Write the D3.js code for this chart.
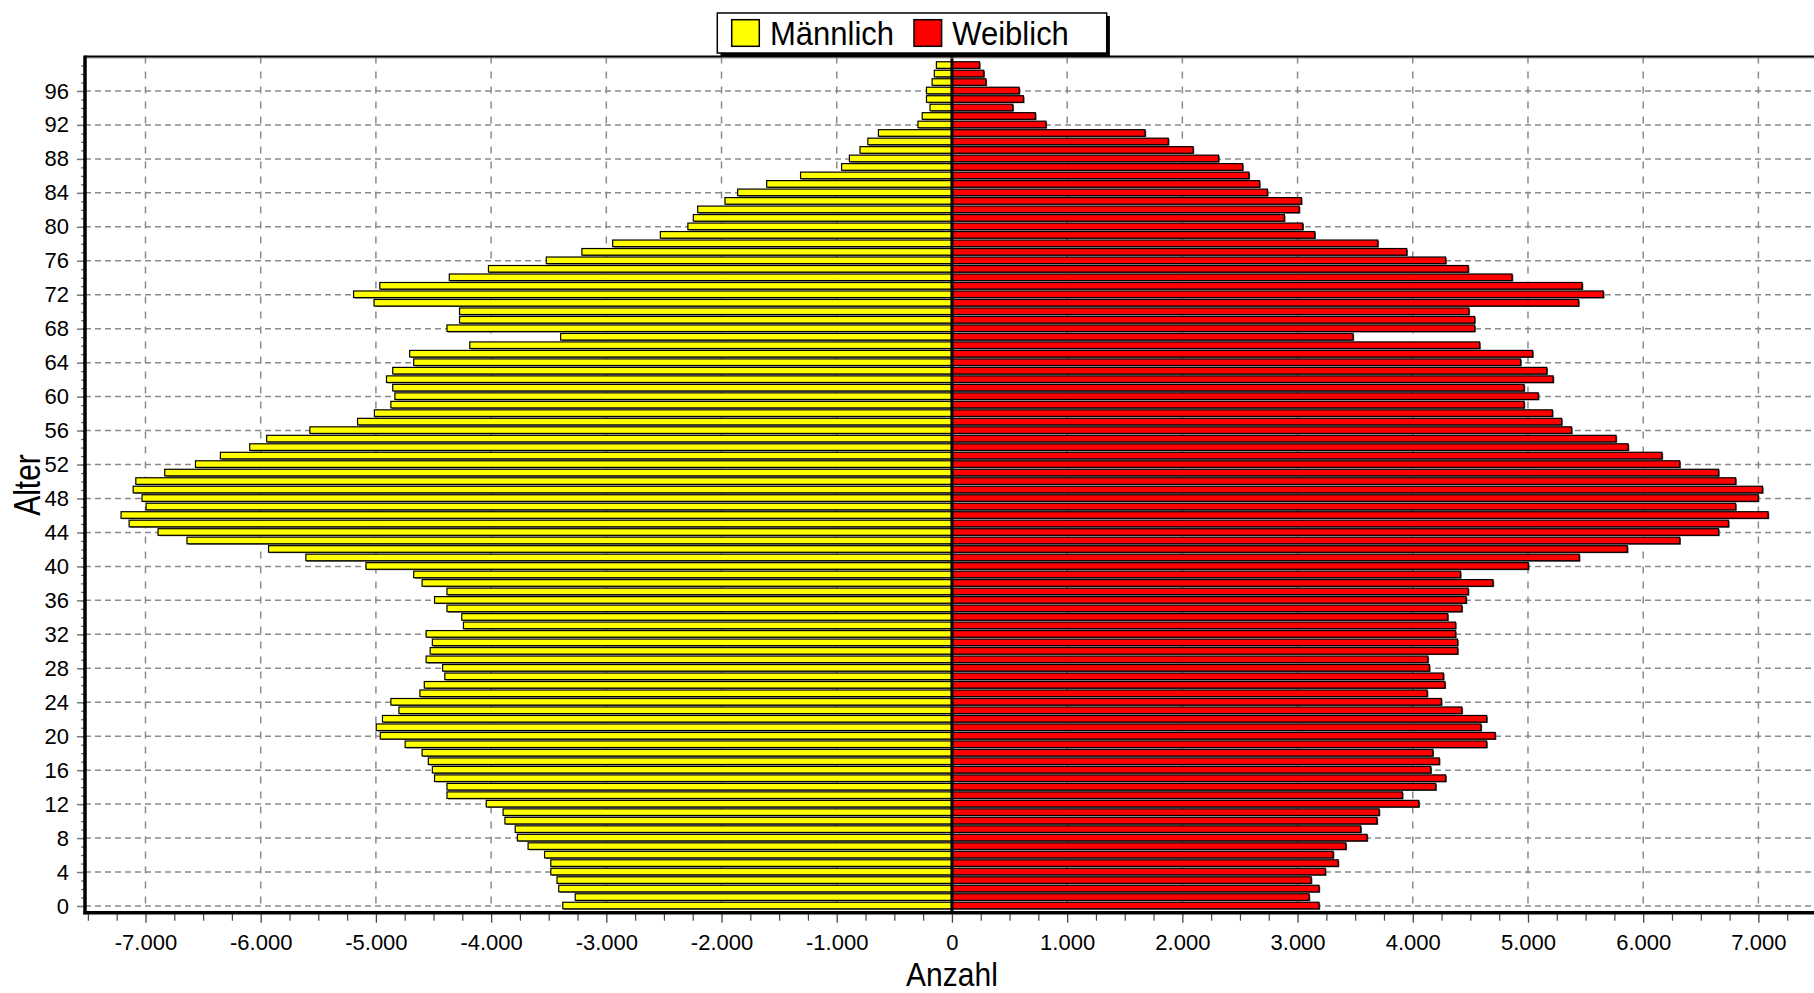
<!DOCTYPE html>
<html>
<head>
<meta charset="utf-8">
<script src="https://cdn.jsdelivr.net/npm/d3@7"></script>
<style>
  html, body { margin: 0; padding: 0; background: #ffffff; }
  svg { display: block; }
  text { font-family: "Liberation Sans", Arial, sans-serif; fill: #000; }
</style>
</head>
<body>
<svg id="chart" width="1814" height="993"></svg>
<script>
// ---------- data ----------
const ages = d3.range(0, 100);
const maleCounts = [
  3378, 3270, 3413, 3428, 3482, 3482, 3536, 3679, 3772, 3791,
  3880, 3896, 4042, 4383, 4383, 4491, 4510, 4545, 4599, 4746,
  4962, 4997, 4943, 4800, 4870, 4618, 4580, 4402, 4421, 4564,
  4529, 4510, 4564, 4240, 4255, 4383, 4491, 4383, 4599, 4672,
  5086, 5608, 5932, 6640, 6891, 7142, 7212, 6995, 7030, 7107,
  7084, 6833, 6566, 6350, 6095, 5948, 5573, 5159, 5013, 4870,
  4835, 4854, 4908, 4854, 4672, 4707, 4185, 3397, 4383, 4274,
  4274, 5016, 5194, 4966, 4363, 4023, 3521, 3212, 2945, 2531,
  2292, 2245, 2207, 1970, 1860, 1608, 1314, 958, 890, 798,
  730, 638, 295, 258, 190, 221, 221, 172, 153, 135
];
const femaleCounts = [
  3186, 3100, 3186, 3118, 3241, 3352, 3309, 3419, 3603, 3548,
  3689, 3708, 4052, 3910, 4199, 4285, 4156, 4230, 4174, 4641,
  4715, 4592, 4641, 4426, 4248, 4125, 4279, 4266, 4144, 4131,
  4389, 4389, 4371, 4371, 4303, 4426, 4463, 4481, 4696, 4414,
  5003, 5445, 5862, 6317, 6654, 6740, 7084, 6802, 6998, 7035,
  6802, 6654, 6317, 6163, 5869, 5764, 5378, 5292, 5212, 4966,
  5089, 4966, 5218, 5163, 4936, 5040, 4580, 3481, 4537, 4537,
  4487, 5439, 5654, 5470, 4862, 4481, 4285, 3947, 3696, 3149,
  3045, 2885, 3014, 3033, 2738, 2670, 2578, 2523, 2314, 2093,
  1878, 1676, 816, 724, 528, 620, 583, 295, 276, 239
];
const seriesNames = ["Männlich", "Weiblich"];
const seriesColors = ["#ffff00", "#ff0000"];
const xTickValues = d3.range(-7000, 7001, 1000);
const xMinorTickValues = d3.range(-7500, 7501, 250);
const yTickValues = d3.range(0, 97, 4);
const xTitle = "Anzahl";
const yTitle = "Alter";

// ---------- layout ----------
const pLeft = 85, pRight = 1816, pTop = 56.5, pBottom = 912.7;
const svg = d3.select("#chart");

const x = d3.scaleLinear().domain([-7525, 7500]).range([pLeft, pRight]);
const y = d3.scaleLinear().domain([-0.79, 100.06]).range([pBottom, pTop]);

const de = d3.formatLocale({decimal: ",", thousands: ".", grouping: [3], currency: ["", "€"], minus: "-"});
const fmt = de.format(",d");

// ---------- gridlines ----------
const grid = svg.append("g");
grid.selectAll("line.h").data(yTickValues).join("line")
  .attr("x1", pLeft).attr("x2", pRight)
  .attr("y1", d => y(d)).attr("y2", d => y(d))
  .attr("stroke", "#8a8a8a").attr("stroke-width", 1.5)
  .attr("stroke-dasharray", "6,4");
grid.selectAll("line.v").data(xTickValues.filter(d => d !== 0)).join("line")
  .attr("x1", d => x(d)).attr("x2", d => x(d))
  .attr("y1", pTop).attr("y2", pBottom)
  .attr("stroke", "#8a8a8a").attr("stroke-width", 1.5)
  .attr("stroke-dasharray", "7,8");

// ---------- bars ----------
const band = y(0) - y(1);
const barH = band - 1.9;
function drawSeries(values, sign, color) {
  const g = svg.append("g");
  const data = ages.map((a, i) => ({age: a, v: values[i]}));
  g.selectAll("rect.s").data(data).join("rect")
    .attr("x", d => Math.min(x(0), x(sign * d.v)) + 1.2)
    .attr("y", d => y(d.age + 0.5) + 1.4)
    .attr("width", d => Math.abs(x(sign * d.v) - x(0)))
    .attr("height", barH)
    .attr("fill", "#4a4a4a");
  g.selectAll("rect.b").data(data).join("rect")
    .attr("x", d => Math.min(x(0), x(sign * d.v)))
    .attr("y", d => y(d.age + 0.5) + 0.5)
    .attr("width", d => Math.abs(x(sign * d.v) - x(0)))
    .attr("height", barH)
    .attr("fill", color)
    .attr("stroke", "#000").attr("stroke-width", 1.2);
}
drawSeries(maleCounts, -1, seriesColors[0]);
drawSeries(femaleCounts, 1, seriesColors[1]);

// center line
svg.append("line")
  .attr("x1", x(0)).attr("x2", x(0)).attr("y1", pTop).attr("y2", pBottom)
  .attr("stroke", "#000").attr("stroke-width", 3);

// ---------- axes ----------
const xMinor = svg.append("g").attr("transform", `translate(0,${pBottom + 1})`)
  .call(d3.axisBottom(x).tickValues(xMinorTickValues.filter(v => v % 1000 !== 0)).tickSize(7).tickFormat(""));
xMinor.select(".domain").remove();
xMinor.selectAll("line").attr("stroke", "#444").attr("stroke-width", 1.2);

const xAxis = svg.append("g").attr("transform", `translate(0,${pBottom})`)
  .call(d3.axisBottom(x).tickValues(xTickValues).tickSize(10).tickPadding(12).tickFormat(d => fmt(d)));
xAxis.select(".domain").remove();
xAxis.selectAll("line").attr("stroke", "#444").attr("stroke-width", 1.3);
xAxis.selectAll("text").attr("font-size", 22).attr("font-family", "Liberation Sans, Arial, sans-serif");

const yMinor = svg.append("g").attr("transform", `translate(${pLeft},0)`)
  .call(d3.axisLeft(y).tickValues(ages).tickSize(4).tickFormat(""));
yMinor.select(".domain").remove();
yMinor.selectAll("line").attr("stroke", "#666").attr("stroke-width", 1.2);

const yAxis = svg.append("g").attr("transform", `translate(${pLeft},0)`)
  .call(d3.axisLeft(y).tickValues(yTickValues).tickSize(8).tickPadding(8));
yAxis.select(".domain").remove();
yAxis.selectAll("line").attr("stroke", "#777").attr("stroke-width", 1.5);
yAxis.selectAll("text").attr("font-size", 22).attr("font-family", "Liberation Sans, Arial, sans-serif");

// frame: top border, left axis, bottom axis
svg.append("line").attr("x1", pLeft).attr("x2", 1814).attr("y1", pTop + 1.5).attr("y2", pTop + 1.5)
  .attr("stroke", "#999").attr("stroke-width", 1);
svg.append("line").attr("x1", pLeft).attr("x2", 1814).attr("y1", pTop).attr("y2", pTop)
  .attr("stroke", "#000").attr("stroke-width", 2);
svg.append("line").attr("x1", pLeft).attr("x2", pLeft).attr("y1", pTop - 1).attr("y2", pBottom + 1.5)
  .attr("stroke", "#000").attr("stroke-width", 3.5);
svg.append("line").attr("x1", pLeft - 1.5).attr("x2", 1814).attr("y1", pBottom).attr("y2", pBottom)
  .attr("stroke", "#000").attr("stroke-width", 3.5);

// axis titles
svg.append("text")
  .attr("transform", `translate(${x(0)},986) scale(1,1.12)`)
  .attr("text-anchor", "middle").attr("font-size", 30).text(xTitle);
svg.append("text")
  .attr("transform", `translate(40,485) rotate(-90) scale(1,1.2)`)
  .attr("text-anchor", "middle").attr("font-size", 30).text(yTitle);

// ---------- legend ----------
const lg = svg.append("g");
lg.append("rect").attr("x", 720.5).attr("y", 16).attr("width", 389.4).attr("height", 40).attr("fill", "#000");
lg.append("rect").attr("x", 717.3).attr("y", 13).attr("width", 389.4).attr("height", 40)
  .attr("fill", "#fff").attr("stroke", "#000").attr("stroke-width", 1.5);
const legendItems = [
  {name: seriesNames[0], color: seriesColors[0], sx: 731.7, tx: 770},
  {name: seriesNames[1], color: seriesColors[1], sx: 914, tx: 952.3}
];
legendItems.forEach(it => {
  lg.append("rect").attr("x", it.sx).attr("y", 19.7).attr("width", 27.6).attr("height", 26.6)
    .attr("fill", it.color).attr("stroke", "#000").attr("stroke-width", 1.5);
  lg.append("text").attr("transform", `translate(${it.tx},44.7) scale(1,1.06)`)
    .attr("font-size", 31).text(it.name);
});
</script>
</body>
</html>
